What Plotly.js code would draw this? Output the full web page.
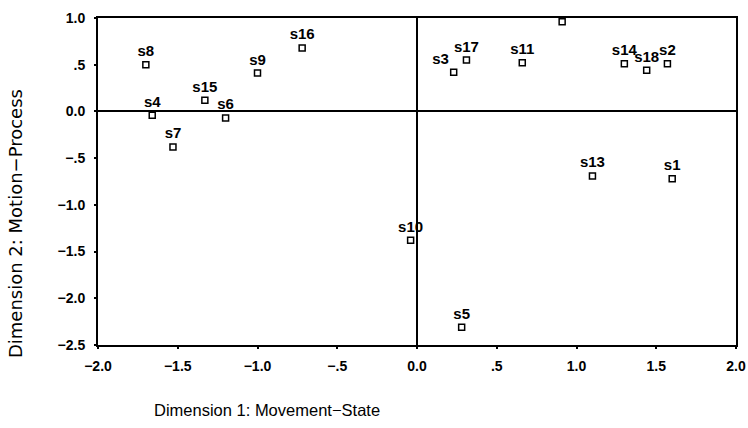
<!DOCTYPE html>
<html>
<head>
<meta charset="utf-8">
<script src="https://cdn.plot.ly/plotly-3.0.1.min.js"></script>
<style>html,body{margin:0;padding:0;background:#fff;}#chart{width:748px;height:428px;}</style>
</head>
<body>
<div id="chart"></div>
<script>
const labels = ["s1","s2","s3","s4","s5","s6","s7","s8","s9","s10","s11","s12","s13","s14","s15","s16","s17","s18"];
const dim1 = [1.60, 1.57, 0.23, -1.66, 0.28, -1.20, -1.53, -1.70, -1.00, -0.04, 0.66, 0.91, 1.10, 1.30, -1.33, -0.72, 0.31, 1.44];
const dim2 = [-0.72, 0.51, 0.42, -0.04, -2.31, -0.07, -0.38, 0.50, 0.41, -1.38, 0.52, 0.96, -0.69, 0.51, 0.12, 0.68, 0.55, 0.44];
const xTickVals = [-2, -1.5, -1, -0.5, 0, 0.5, 1, 1.5, 2];
const xTickText = ["\u22122.0", "\u22121.5", "\u22121.0", "\u2212.5", "0.0", ".5", "1.0", "1.5", "2.0"];
const yTickVals = [1, 0.5, 0, -0.5, -1, -1.5, -2, -2.5];
const yTickText = ["1.0", ".5", "0.0", "\u2212.5", "\u22121.0", "\u22121.5", "\u22122.0", "\u22122.5"];
const xTitle = "Dimension 1: Movement\u2212State";
const yTitle = "Dimension 2: Motion\u2212Process";

const shown = labels.map(l => l === "s12" ? "" : l);
const pos = labels.map(l => l === "s3" ? "top left" : "top center");

const fam = "Liberation Sans, Arial, sans-serif";

const trace = {
  type: "scatter", mode: "markers+text",
  x: dim1, y: dim2, text: shown, textposition: pos,
  textfont: {family: fam, size: 15, color: "#000", weight: "bold"},
  marker: {symbol: "square-open", size: 6, color: "#000", line: {width: 1.5, color: "#000"}},
  cliponaxis: false, hoverinfo: "skip"
};

const tickFont = {family: fam, size: 14, color: "#000", weight: "bold"};

const layout = {
  width: 748, height: 428,
  margin: {l: 98, r: 12, t: 18, b: 83},
  paper_bgcolor: "#fff", plot_bgcolor: "#fff",
  showlegend: false,
  xaxis: {
    range: [-2, 2], tickvals: xTickVals, ticktext: xTickText,
    showgrid: false, zeroline: true, zerolinecolor: "#000", zerolinewidth: 2,
    showline: true, linecolor: "#000", linewidth: 2, mirror: true,
    ticks: "outside", ticklen: 2, tickcolor: "#000", tickwidth: 2,
    tickfont: tickFont, ticklabelstandoff: 5
  },
  yaxis: {
    range: [-2.5, 1], tickvals: yTickVals, ticktext: yTickText,
    showgrid: false, zeroline: true, zerolinecolor: "#000", zerolinewidth: 2,
    showline: true, linecolor: "#000", linewidth: 2, mirror: true,
    ticks: "outside", ticklen: 2, tickcolor: "#000", tickwidth: 2,
    tickfont: tickFont, ticklabelstandoff: 6
  },
  annotations: [
    {
      xref: "paper", yref: "paper", x: 0.0846, y: -0.199, xanchor: "left", yanchor: "middle",
      text: xTitle, showarrow: false,
      font: {family: fam, size: 16.5, color: "#000"}
    },
    {
      xref: "paper", yref: "paper", x: -0.130, y: 0.37, xanchor: "center", yanchor: "middle",
      text: yTitle, showarrow: false, textangle: -90,
      font: {family: "DejaVu Sans, sans-serif", size: 18, color: "#000"}
    }
  ]
};

Plotly.newPlot("chart", [trace], layout, {displayModeBar: false, staticPlot: true});
</script>
</body>
</html>
